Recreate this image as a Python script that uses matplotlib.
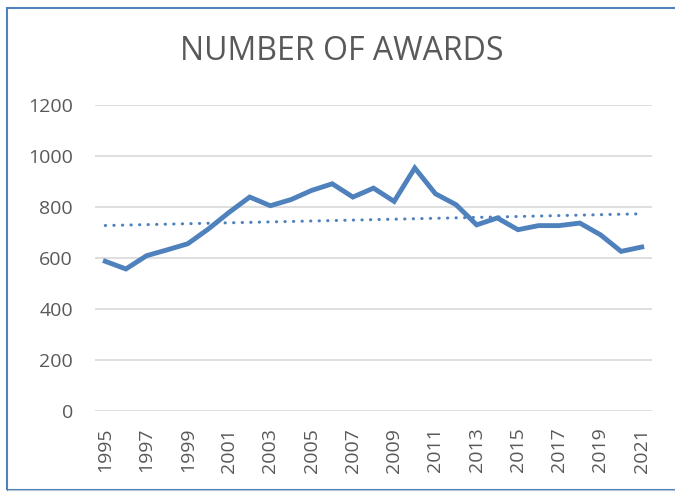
import matplotlib
matplotlib.use("Agg")
import matplotlib.pyplot as plt
from matplotlib.patches import Rectangle
import numpy as np

plt.rcParams['font.family'] = ['Open Sans', 'DejaVu Sans']

# Данні з графіка (оцінено з картинки)
years = list(range(1995, 2022))
awards = [587, 557, 609, 632, 656, 714, 779, 839, 805, 829, 865, 891, 839, 874,
          822, 953, 852, 809, 730, 757, 711, 727, 727, 737, 691, 626, 643]
y_ticks = [0, 200, 400, 600, 800, 1000, 1200]
x_labels = [str(y) for y in years[::2]]

line_color = '#4F81BD'
text_color = '#595959'

fig = plt.figure(figsize=(6.75, 4.92), dpi=100)
ax = fig.add_axes([0.1407, 0.1646, 0.8253, 0.622])

ax.plot(years, awards, color=line_color, linewidth=3.5, solid_joinstyle='miter', zorder=3)

# Лінійний тренд, як у Excel
k, b = np.polyfit(years, awards, 1)
trend = [k * x + b for x in years]
ax.plot(years, trend, color=line_color, linewidth=2.2, linestyle=(0, (0.1, 2.7)),
        dash_capstyle='round', zorder=2)

ax.set_ylim(0, 1200)
ax.set_xlim(1994.5, 2021.5)
ax.set_yticks(y_ticks)
ax.set_xticks(years[::2])
ax.set_xticklabels(x_labels, rotation=90)
ax.tick_params(axis='both', length=0, labelsize=14, colors=text_color)
ax.tick_params(axis='y', pad=16)
ax.tick_params(axis='x', pad=12)
ax.grid(axis='y', color='#D9D9D9', linewidth=1.2)
ax.set_axisbelow(True)
for s in ax.spines.values():
    s.set_visible(False)

fig.text(0.507, 0.896, 'NUMBER OF AWARDS', ha='center', va='center',
         fontsize=23, color=text_color, fontweight='normal')

# Рамка діаграми
fig.patches.append(Rectangle((0.010, 0.004), 1.2, 0.98, transform=fig.transFigure,
                             fill=False, edgecolor=line_color, linewidth=1.5))
fig.patches.append(Rectangle((0.012, 0.003), 1.2, 0.002, transform=fig.transFigure,
                             fill=True, facecolor='#B7C6D6', edgecolor='none'))

fig.savefig('out.png', dpi=100)
